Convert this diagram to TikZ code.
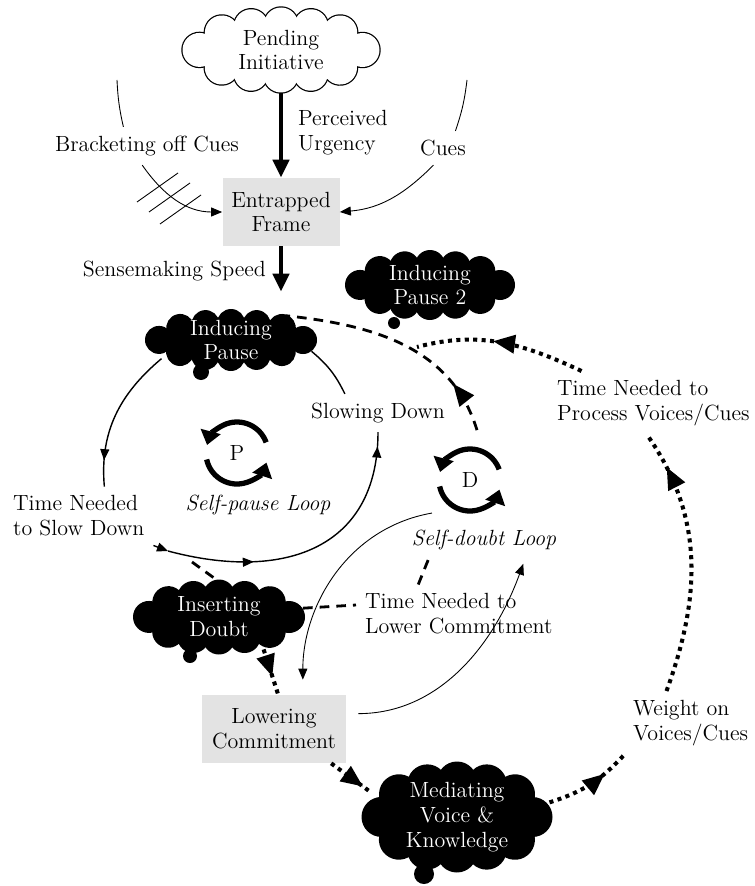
\documentclass[tikz,border=0pt]{standalone}
\usetikzlibrary{shapes.geometric,arrows.meta,decorations.markings}
\tikzset{
  every node/.style={font=\fontsize{12.5}{14.2}\selectfont},
  lbl/.style={inner sep=5pt, align=center},
  loopname/.style={inner sep=5pt, font=\fontsize{12.5}{14.2}\selectfont\itshape},
  graybox/.style={fill=gray!22, minimum height=13.6mm, align=center, inner sep=2pt},
  cloudnode/.style={ellipse, inner sep=0pt, align=center},
  heavy/.style={line width=2.8pt, -{Triangle[length=3.6mm,width=3.2mm]}},
  link/.style={line width=0.8pt},
  thinlink/.style={line width=0.5pt},
  smalltip/.style={-{Triangle[length=2.2mm,width=1.8mm]}},
  dashlink/.style={line width=1.6pt, dash pattern=on 5.5pt off 4pt},
  dotlink/.style={line width=2.3pt, dash pattern=on 2.3pt off 2.5pt},
  loopsym/.style={line width=3pt, -{Triangle[length=2.8mm,width=4mm]}},
  tipat/.style={postaction={decorate}, decoration={markings,
    mark=at position #1 with {\arrow{Triangle[length=2.2mm,width=1.8mm]}}}},
  bigtipat/.style={postaction={decorate}, decoration={markings,
    mark=at position #1 with {\arrow{Triangle[length=4.4mm,width=3.6mm]}}}}
}
% puffs of a cloud: centre, half axes of the inner ellipse, puff radius, options
\newcommand{\puffs}[5]{%
  \fill[#5] #1 ellipse (#2 and #3);
  \path[decorate, decoration={markings, mark=between positions 0 and 0.99 step 0.0833
      with {\fill[#5] (0,0) circle (#4);}}] #1 ellipse (#2 and #3);
}
\begin{document}
\begin{tikzpicture}[x=0.2mm,y=0.2mm]
\useasboundingbox (0,0) rectangle (754,-886);

% Initiative and frame
\path[decorate, decoration={markings, mark=between positions 0 and 0.99 step 0.0833
    with {\filldraw[fill=white, line width=1.4pt] (0,0) circle (17);}}]
    (281,-50) ellipse (81.5 and 25.5);
\puffs{(281,-50)}{81.5}{25.5}{17}{white}
\node[cloudnode, minimum width=39.4mm, minimum height=17mm] (pend) at (281,-50) {Pending\\Initiative};
\node[lbl, anchor=west, align=left] (urg) at (289,-133) {Perceived\\Urgency};
\node[graybox, minimum width=23.4mm] (frame) at (281,-212) {Entrapped\\Frame};
\draw[heavy] (pend.south) -- (frame.north);

% Cues
\node[lbl] (brack) at (147,-146) {Bracketing off Cues};
\node[lbl] (cues) at (443,-148) {Cues};
\coordinate (bl) at (117,-80);
\coordinate (cr) at (467,-80);
\draw[thinlink] (bl) to[bend right=5] (brack.141);
\draw[thinlink, smalltip] (brack.256) to[out=-55,in=180] (frame.west);
\foreach \hx/\hy in {137/-202,149/-212,160/-224}
    \draw[thinlink] (\hx,\hy) -- ++(41,29);
\draw[thinlink] (cr) to[bend left=6] (cues.54);
\draw[thinlink, smalltip] (cues.241) to[out=225,in=5] (frame.east);

% Pauses
\node[lbl, anchor=east] (speed) at (275,-271) {Sensemaking Speed};
\puffs{(231,-340)}{72}{17}{14}{black}
\node[cloudnode, text=white, minimum width=34.4mm, minimum height=12.4mm] (ipause) at (231,-340) {Inducing\\Pause};
\puffs{(430,-285)}{70}{20}{15}{black}
\node[cloudnode, text=white, minimum width=34mm, minimum height=14mm] (ipause2) at (430,-285) {Inducing\\Pause 2};
\draw[heavy, shorten >=3.4mm] (frame.south) -- (frame.south |- ipause.north);

% Self-pause loop
\node[lbl] (sdown) at (378,-413) {Slowing Down};
\node[lbl, anchor=west, align=left] (tns) at (4,-516) {Time Needed\\to Slow Down};
\node[loopname] (spl) at (258,-505) {Self-pause Loop};
\coordinate (spj) at (168,-551);
\draw[link, tipat=0.82] (ipause.195) to[out=220,in=95] (tns.49);
\draw[link, smalltip] (tns.south east) -- (spj);
\draw[link, postaction={decorate}, decoration={markings,
    mark=at position 0.3 with {\arrow{Triangle[length=2.2mm,width=1.8mm]}},
    mark=at position 0.95 with {\arrow{Triangle[length=2.2mm,width=1.8mm]}}}]
    (spj) to[out=-15,in=-90,looseness=1.25] (sdown.south);
\draw[link] (sdown.150) to[bend right=12] (ipause.-8);

% Loop signs
\foreach \lname/\lx/\ly in {P/237/-453,D/470/-480} {
    \node[circle, minimum size=20mm] (\lname loop) at (\lx,\ly) {\lname};
    \draw[loopsym] (\lx,\ly) ++(20:31) arc (20:165:31);
    \draw[loopsym] (\lx,\ly) ++(192:31) arc (192:342:31);
}

% Self-doubt loop
\node[loopname] (sdl) at (484,-540) {Self-doubt Loop};
\puffs{(219,-617)}{70}{21.5}{16}{black}
\node[cloudnode, text=white, minimum width=34.4mm, minimum height=15mm] (idoubt) at (219,-617) {Inserting\\Doubt};
\node[lbl, anchor=west, align=left] (tlc) at (356,-614) {Time Needed to\\Lower Commitment};
\node[graybox, minimum width=28.8mm] (lcom) at (274,-729) {Lowering\\Commitment};
\coordinate (sdj) at (192,-562);
\coordinate (vj) at (417,-347);
\draw[dashlink] (sdj) -- (idoubt.95);
\draw[dashlink] (idoubt.6) -- (tlc.175);
\draw[dashlink] (tlc.144) -- (sdl.199);
\draw[dashlink, bigtipat=0.22] (Dloop.82) to[out=107,in=-6] (ipause.24);
\draw[thinlink, smalltip, shorten <=2.4mm, shorten >=1mm] (lcom.12) to[out=0,in=-110] (sdl.-25);
\draw[thinlink, smalltip, shorten >=3mm] (Dloop.221) to[out=190,in=90] (lcom.50);

% Voices
\puffs{(457,-817)}{75.5}{35.5}{20}{black}
\node[cloudnode, text=white, minimum width=38.2mm, minimum height=22.2mm] (med) at (457,-817) {Mediating\\Voice \&\\Knowledge};
\node[lbl, anchor=west, align=left] (wvc) at (624,-723) {Weight on\\Voices/Cues};
\node[lbl, anchor=west, align=left] (tpv) at (548,-403) {Time Needed to\\Process Voices/Cues};
\draw[dotlink, bigtipat=0.6] (idoubt.-36) -- (lcom.83);
\draw[dotlink, bigtipat=0.8] (lcom.-31) -- (med.164);
\draw[dotlink, bigtipat=0.7] (med.9) to[bend right=15] (wvc.south west);
\draw[dotlink, bigtipat=0.86] (wvc.127) to[out=70,in=-55] (tpv.-101);
\draw[dotlink, bigtipat=0.55] (tpv.156) to[out=155,in=15] (vj);

% Bubble tails
\foreach \tx/\ty/\tr in {201/-372/8,394/-323/6,190/-656/7,424/-874/10}
    \fill (\tx,\ty) circle (\tr);
\end{tikzpicture}
\end{document}
